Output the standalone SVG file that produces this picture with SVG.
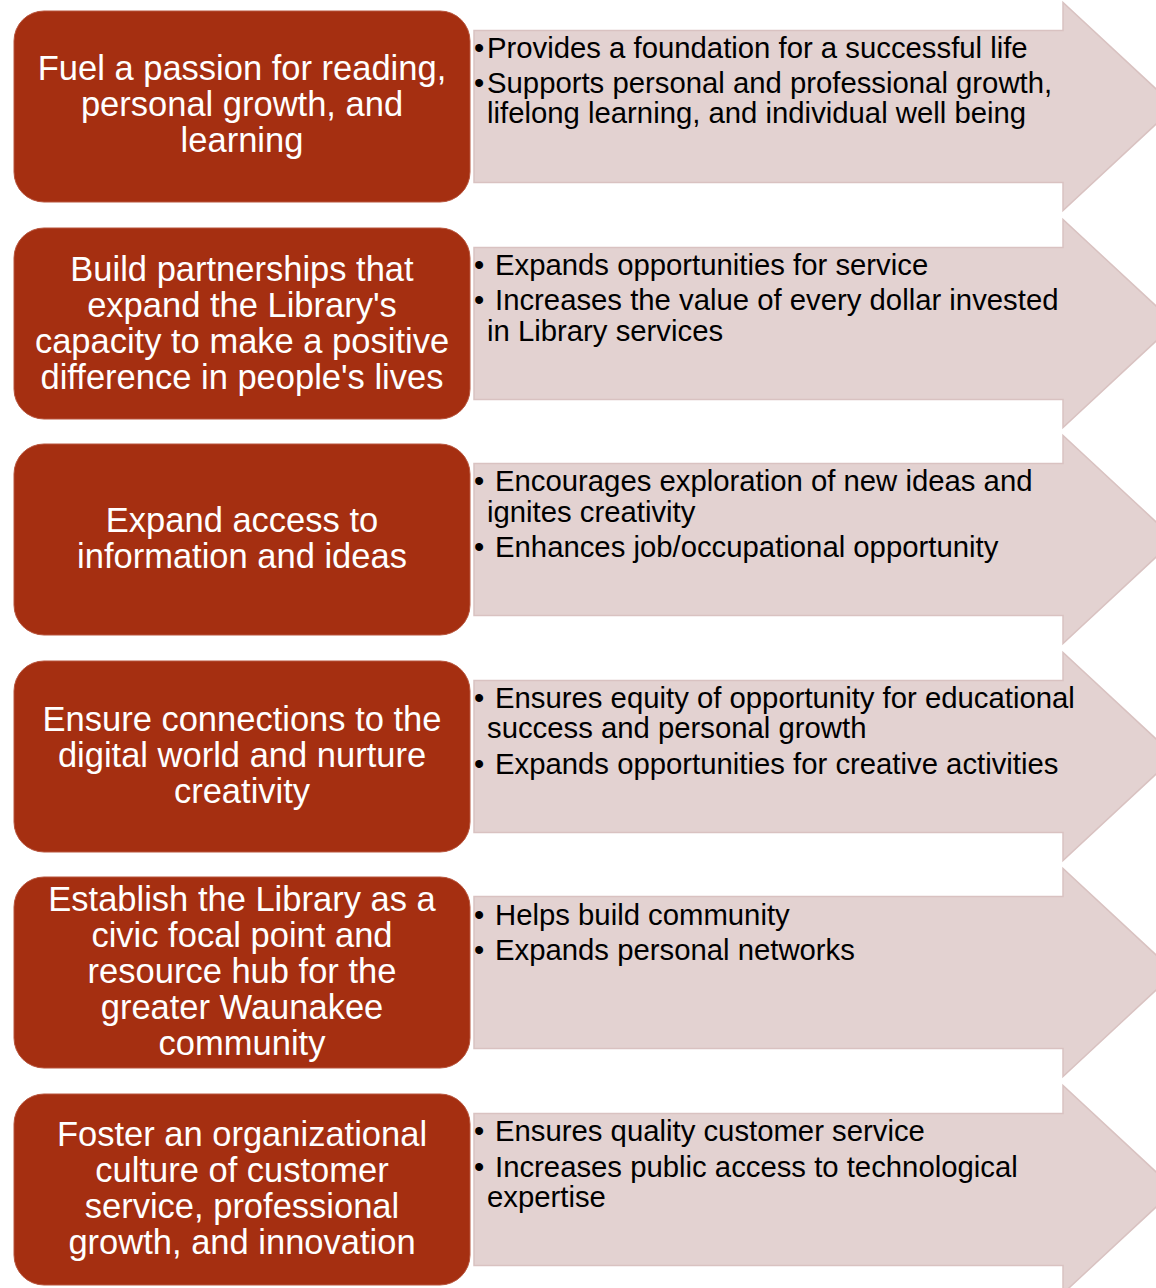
<svg xmlns="http://www.w3.org/2000/svg" width="1156" height="1288" viewBox="0 0 1156 1288">
<style>
.box{fill:#A52F11;stroke:#B8553D;stroke-width:1}
.arr{fill:#E3D2D1;stroke:#D9C2C1;stroke-width:1.5}
.lt{font-family:"Liberation Sans",Arial,sans-serif;font-size:34.5px;fill:#FFFFFF;text-anchor:middle}
.rt{font-family:"Liberation Sans",Arial,sans-serif;font-size:29.3px;fill:#000000}
</style>
<rect width="1156" height="1288" fill="#FFFFFF"/>
<defs>
<path id="arrowShape" d="M474,-76 H1063 V-104 L1175,0 L1063,104 V76 H474 Z"/>
</defs>
<g id="connectors"></g>

<g id="row1">
<use href="#arrowShape" class="arr" transform="translate(0,106.5)"/>
<rect class="box" x="14" y="11" width="456" height="191" rx="30"/>
<text class="lt"><tspan x="242" y="80">Fuel a passion for reading,</tspan><tspan x="242" y="116">personal growth, and</tspan><tspan x="242" y="152">learning</tspan></text>
<text class="rt"><tspan x="474" y="58">•</tspan><tspan x="487" y="58">Provides a foundation for a successful life</tspan><tspan x="474" y="93">•</tspan><tspan x="487" y="93">Supports personal and professional growth,</tspan><tspan x="487" y="123">lifelong learning, and individual well being</tspan></text>
</g>

<g id="row2">
<use href="#arrowShape" class="arr" transform="translate(0,323.5)"/>
<rect class="box" x="14" y="228" width="456" height="191" rx="30"/>
<text class="lt"><tspan x="242" y="281">Build partnerships that</tspan><tspan x="242" y="317">expand the Library's</tspan><tspan x="242" y="353">capacity to make a positive</tspan><tspan x="242" y="389">difference in people's lives</tspan></text>
<text class="rt"><tspan x="474" y="275">•</tspan><tspan x="495" y="275">Expands opportunities for service</tspan><tspan x="474" y="310">•</tspan><tspan x="495" y="310">Increases the value of every dollar invested</tspan><tspan x="487" y="341">in Library services</tspan></text>
</g>

<g id="row3">
<use href="#arrowShape" class="arr" transform="translate(0,539.5)"/>
<rect class="box" x="14" y="444" width="456" height="191" rx="30"/>
<text class="lt"><tspan x="242" y="532">Expand access to</tspan><tspan x="242" y="568">information and ideas</tspan></text>
<text class="rt"><tspan x="474" y="491">•</tspan><tspan x="495" y="491">Encourages exploration of new ideas and</tspan><tspan x="487" y="522">ignites creativity</tspan><tspan x="474" y="557">•</tspan><tspan x="495" y="557">Enhances job/occupational opportunity</tspan></text>
</g>

<g id="row4">
<use href="#arrowShape" class="arr" transform="translate(0,756.5)"/>
<rect class="box" x="14" y="661" width="456" height="191" rx="30"/>
<text class="lt"><tspan x="242" y="731">Ensure connections to the</tspan><tspan x="242" y="767">digital world and nurture</tspan><tspan x="242" y="803">creativity</tspan></text>
<text class="rt"><tspan x="474" y="708">•</tspan><tspan x="495" y="708">Ensures equity of opportunity for educational</tspan><tspan x="487" y="738">success and personal growth</tspan><tspan x="474" y="774">•</tspan><tspan x="495" y="774">Expands opportunities for creative activities</tspan></text>
</g>

<g id="row5">
<use href="#arrowShape" class="arr" transform="translate(0,972.5)"/>
<rect class="box" x="14" y="877" width="456" height="191" rx="30"/>
<text class="lt"><tspan x="242" y="911">Establish the Library as a</tspan><tspan x="242" y="947">civic focal point and</tspan><tspan x="242" y="983">resource hub for the</tspan><tspan x="242" y="1019">greater Waunakee</tspan><tspan x="242" y="1055">community</tspan></text>
<text class="rt"><tspan x="474" y="925">•</tspan><tspan x="495" y="925">Helps build community</tspan><tspan x="474" y="960">•</tspan><tspan x="495" y="960">Expands personal networks</tspan></text>
</g>

<g id="row6">
<use href="#arrowShape" class="arr" transform="translate(0,1189.5)"/>
<rect class="box" x="14" y="1094" width="456" height="191" rx="30"/>
<text class="lt"><tspan x="242" y="1146">Foster an organizational</tspan><tspan x="242" y="1182">culture of customer</tspan><tspan x="242" y="1218">service, professional</tspan><tspan x="242" y="1254">growth, and innovation</tspan></text>
<text class="rt"><tspan x="474" y="1141">•</tspan><tspan x="495" y="1141">Ensures quality customer service</tspan><tspan x="474" y="1177">•</tspan><tspan x="495" y="1177">Increases public access to technological</tspan><tspan x="487" y="1207">expertise</tspan></text>
</g>
</svg>
